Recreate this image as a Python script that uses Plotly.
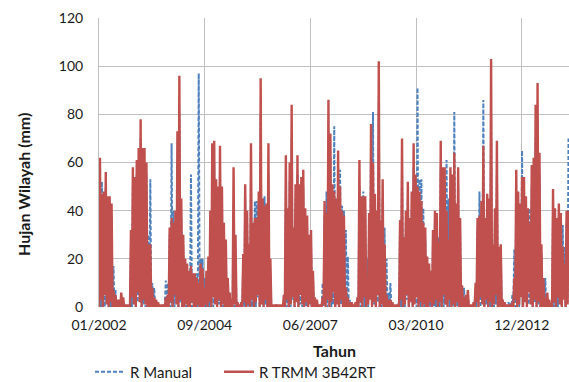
import pandas as pd
import plotly.graph_objects as go

# ---------------- data ----------------
START = pd.Timestamp("2002-01-01")
STEP_DAYS = 18.32          # one trough + one peak per step
END_DAYS = 4447            # right edge of the visible time axis

# R TRMM 3B42RT : peak per step
red_hi = [
    62, 47, 48, 56, 46, 46, 43, 7, 5, 3,
    3, 6, 4, 1, 1, 1, 32, 58, 54, 61,
    66, 78, 66, 66, 60, 26, 26, 8, 4, 3,
    2, 1, 1, 1, 4, 5, 33, 37, 35, 40,
    73, 96, 45, 30, 20, 18, 15, 17, 14, 14,
    12, 10, 18, 16, 8, 15, 21, 40, 68, 69,
    53, 50, 67, 50, 35, 28, 12, 6, 3, 58,
    30, 2, 1, 2, 22, 51, 40, 26, 68, 35,
    37, 37, 48, 95, 45, 42, 43, 68, 20, 1,
    1, 1, 1, 1, 1, 5, 63, 41, 60, 84,
    33, 51, 63, 51, 54, 57, 41, 38, 30, 32,
    15, 4, 3, 1, 1, 4, 44, 39, 86, 72,
    51, 48, 45, 65, 50, 40, 38, 8, 4, 2,
    2, 1, 2, 4, 61, 46, 46, 46, 10, 39,
    76, 60, 47, 40, 102, 36, 53, 26, 5, 3,
    3, 2, 1, 1, 1, 36, 70, 29, 40, 52,
    37, 48, 68, 55, 50, 48, 44, 35, 33, 21,
    18, 15, 32, 40, 39, 27, 69, 58, 58, 40,
    28, 58, 55, 64, 43, 58, 37, 9, 4, 5,
    7, 1, 1, 2, 10, 37, 38, 44, 67, 37,
    47, 45, 103, 26, 41, 69, 25, 26, 3, 2,
    1, 1, 1, 2, 12, 57, 48, 43, 54, 54,
    46, 41, 35, 59, 62, 84, 93, 64, 26, 12,
    4, 6, 3, 1, 49, 41, 37, 43, 39, 25,
    18, 40, 40,
]
# R TRMM 3B42RT : trough per step
red_lo = [
    0, 3, 0, 5, 1, 0, 2,
    0, 0, 0, 0, 0, 0, 0, 0, 0,
    0, 4, 1, 0, 6, 2, 0, 3, 1, 0, 0,
    0, 0, 0, 0, 0, 0, 0, 0, 0,
    0, 2, 0, 5, 1, 0, 3, 0,
    0, 1, 0, 0, 2, 0, 0, 1, 0, 0, 0, 1, 0,
    2, 0, 4, 1, 0, 3, 0, 1, 0, 0,
    0, 0, 0, 1, 0, 0, 0,
    0, 2, 0, 1, 0, 3, 0, 2, 5, 0, 1, 0, 3, 0, 0,
    0, 0, 0, 0, 0, 0, 0,
    0, 3, 0, 1, 4, 0, 2, 0, 5, 1, 0, 2, 0, 1, 0,
    0, 0, 0, 0, 0,
    1, 0, 3, 0, 2, 6, 0, 1, 0, 3, 0, 0,
    0, 0, 0, 0, 0, 0,
    0, 2, 0, 4, 0, 1, 3, 0, 2, 0, 5, 0, 1, 0, 0,
    0, 0, 0, 0, 0, 0,
    0, 3, 0, 1, 5, 0, 2, 0, 1, 4, 0, 2, 0, 1, 0, 0, 2, 0, 1,
    3, 0, 2, 0, 5, 1, 0, 3, 0, 1, 0, 2, 0, 0, 0, 0, 0,
    0, 0, 0,
    0, 2, 0, 4, 1, 0, 3, 0, 2, 0, 1, 5, 0, 0,
    0, 0, 0, 0, 0, 0,
    0, 3, 0, 1, 4, 0, 2, 0, 6, 1, 0, 3, 0, 2, 0, 0, 0,
    0, 0, 0,
    0, 2, 0, 4, 1, 0, 3, 0, 1,
]

# R Manual : peak per step
blue_hi = [
    33, 52, 45, 50, 42, 40, 38, 17, 7, 2,
    1, 3, 2, 0, 0, 1, 25, 50, 45, 55,
    60, 70, 60, 58, 55, 30, 53, 10, 8, 2,
    1, 0, 0, 1, 11, 10, 30, 68, 40, 35,
    60, 80, 37, 25, 18, 15, 13, 55, 12, 12,
    14, 97, 20, 20, 12, 12, 18, 35, 60, 60,
    48, 45, 58, 45, 30, 22, 10, 4, 2, 40,
    20, 2, 0, 1, 18, 45, 35, 22, 55, 30,
    44, 44, 40, 80, 45, 46, 38, 55, 15, 0,
    0, 1, 0, 0, 1, 3, 50, 35, 52, 70,
    30, 45, 55, 45, 48, 50, 36, 33, 26, 28,
    12, 3, 2, 0, 1, 10, 38, 48, 70, 62,
    45, 75, 40, 55, 57, 42, 40, 32, 21, 3,
    1, 0, 1, 3, 50, 40, 48, 40, 20, 33,
    65, 81, 42, 35, 85, 30, 45, 33, 20, 6,
    10, 1, 0, 0, 1, 36, 58, 25, 35, 45,
    32, 40, 58, 48, 91, 53, 53, 41, 28, 15,
    15, 15, 28, 35, 33, 29, 58, 50, 50, 61,
    45, 50, 48, 81, 38, 50, 32, 8, 8, 3,
    5, 0, 1, 1, 8, 32, 48, 38, 86, 32,
    40, 38, 80, 22, 35, 55, 20, 22, 2, 1,
    0, 2, 2, 5, 24, 48, 40, 38, 65, 46,
    40, 41, 41, 50, 52, 70, 78, 55, 22, 12,
    12, 4, 2, 0, 40, 36, 32, 38, 34, 34,
    25, 35, 70,
]
# R Manual : trough per step
blue_lo = [
    1, 0, 4, 0, 2, 0, 0,
    0, 0, 1, 0, 0, 0, 0, 0, 0,
    1, 0, 3, 0, 2, 5, 0, 1, 0, 2, 0,
    0, 0, 0, 0, 0, 0, 0, 0, 0,
    2, 0, 1, 0, 4, 0, 2, 0,
    1, 0, 0, 2, 0, 1, 0, 0, 3, 0, 1, 0, 0,
    0, 3, 0, 2, 0, 1, 4, 0, 0, 0,
    0, 0, 1, 0, 0, 0, 0,
    1, 0, 3, 0, 2, 0, 1, 0, 4, 0, 2, 0, 1, 0, 0,
    0, 0, 0, 0, 0, 0, 0,
    2, 0, 1, 0, 3, 0, 5, 0, 1, 0, 2, 0, 0, 1, 0,
    0, 0, 0, 0, 0,
    0, 2, 0, 4, 0, 1, 0, 3, 0, 1, 2, 0,
    0, 0, 0, 0, 0, 0,
    1, 0, 3, 0, 2, 0, 4, 0, 1, 0, 2, 0, 0, 1, 0,
    0, 0, 0, 0, 0, 0,
    2, 0, 1, 0, 3, 0, 4, 0, 2, 0, 1, 0, 3, 0, 0, 1, 0, 2, 0,
    0, 2, 0, 3, 0, 1, 4, 0, 2, 0, 3, 0, 1, 0, 0, 0, 0,
    0, 0, 0,
    1, 0, 3, 0, 2, 0, 1, 4, 0, 2, 0, 1, 0, 0,
    0, 0, 0, 0, 0, 0,
    2, 0, 1, 0, 5, 0, 2, 0, 1, 3, 0, 2, 0, 1, 0, 0, 0,
    0, 0, 0,
    1, 0, 3, 0, 2, 0, 4, 0, 2,
]

tick_days = [0, 1000, 2000, 3000, 4000]
tick_text = ["01/2002", "09/2004", "06/2007", "03/2010", "12/2012"]
y_ticks = [0, 20, 40, 60, 80, 100, 120]

series_names = ["R Manual", "R TRMM 3B42RT"]


def build(lo, hi):
    xs, ys = [], []
    for k, (l, h) in enumerate(zip(lo, hi)):
        xs.append(START + pd.Timedelta(days=k * STEP_DAYS))
        ys.append(l)
        xs.append(START + pd.Timedelta(days=k * STEP_DAYS + STEP_DAYS / 2))
        ys.append(h)
    return xs, ys


bx, by = build(blue_lo, blue_hi)
rx, ry = build(red_lo, red_hi)

FONT = "Lato"
TXT = "#1a1a1a"
GRID = "#BFBFBF"

fig = go.Figure()
fig.add_trace(go.Scatter(x=bx, y=by, mode="lines", name=series_names[0],
                         line=dict(color="#4F81BD", width=2, dash="4px,2px"),
                         legendwidth=84, hoverinfo="skip"))
fig.add_trace(go.Scatter(x=rx, y=ry, mode="lines", name=series_names[1],
                         line=dict(color="#C0504D", width=2.4),
                         legendwidth=130, hoverinfo="skip"))

W, H = 569, 382
ML, MR, MT, MB = 99, 0, 18, 75
pw, ph = W - ML - MR, H - MT - MB

fig.update_layout(
    width=W, height=H,
    margin=dict(l=ML, r=MR, t=MT, b=MB, pad=0),
    paper_bgcolor="white", plot_bgcolor="white",
    font=dict(family=FONT, size=14, color=TXT),
    showlegend=True,
    legend=dict(orientation="h", xref="container", yref="container",
                x=90 / W, y=10 / H, xanchor="left", yanchor="middle",
                font=dict(family=FONT, size=15, color=TXT),
                bgcolor="rgba(0,0,0,0)", borderwidth=0),
    xaxis=dict(type="date",
               range=[START, START + pd.Timedelta(days=END_DAYS)],
               tickvals=[START + pd.Timedelta(days=d) for d in tick_days],
               ticktext=tick_text,
               showgrid=True, gridcolor=GRID, gridwidth=1,
               ticks="", showline=False, zeroline=False,
               tickfont=dict(family=FONT, size=14, color=TXT),
               ticklabelstandoff=8),
    yaxis=dict(range=[0, 120], tickvals=y_ticks,
               showgrid=True, gridcolor=GRID, gridwidth=1,
               ticks="", showline=True, linecolor=GRID, linewidth=1,
               zeroline=False,
               tickfont=dict(family=FONT, size=14, color=TXT),
               ticklabelstandoff=12),
    annotations=[
        dict(text="<b>Hujan Wilayah (mm)</b>", textangle=-90,
             xref="paper", yref="paper",
             x=(23 - ML) / pw, y=(MT + ph - 185) / ph,
             xanchor="center", yanchor="middle", showarrow=False,
             font=dict(family=FONT, size=16, color=TXT)),
        dict(text="<b>Tahun</b>", xref="paper", yref="paper",
             x=(334 - ML) / pw, y=(MT + ph - 350) / ph,
             xanchor="center", yanchor="middle", showarrow=False,
             font=dict(family=FONT, size=16, color=TXT)),
    ],
)

fig.write_html("out.html", config={"displayModeBar": False})
